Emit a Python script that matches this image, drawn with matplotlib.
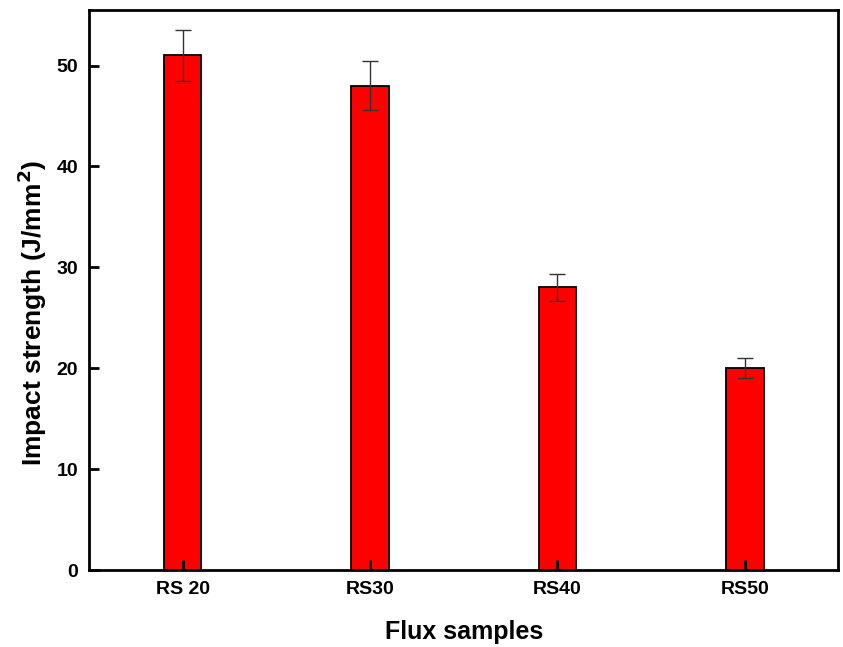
import matplotlib
matplotlib.use("Agg")
import matplotlib.pyplot as plt
import numpy as np

plt.rcParams['font.family'] = ['Liberation Sans', 'DejaVu Sans']
plt.rcParams['font.weight'] = 'bold'

samples = ['RS 20', 'RS30', 'RS40', 'RS50']
strength = [51.0, 48.0, 28.0, 20.0]
errors = [2.5, 2.4, 1.35, 1.0]

fig = plt.figure(figsize=(8.43, 6.47), dpi=100)
ax = fig.add_axes([0.1056, 0.119, 0.889, 0.8655])

x = np.arange(1, len(samples) + 1)
ax.bar(x, strength, width=0.2, color='#ff0000', edgecolor='black', linewidth=1.3,
       yerr=errors, capsize=5.5,
       error_kw=dict(ecolor='#333333', elinewidth=1.0, capthick=1.0))

ax.set_xlim(0.5, 4.5)
ax.set_ylim(0, 55.5)
ax.set_xticks(x)
ax.set_xticklabels(samples)
ax.set_yticks([0, 10, 20, 30, 40, 50])

for s in ax.spines.values():
    s.set_linewidth(2)

ax.tick_params(direction='in', length=7, width=2, labelsize=14, pad=8)
ax.tick_params(axis='y', right=False)
ax.tick_params(axis='x', top=False)

ax.set_xlabel('Flux samples', fontsize=18, fontweight='bold', labelpad=16)
ax.set_ylabel('Impact strength (J/mm$^{\\mathbf{2}}$)', fontsize=19, fontweight='bold')
ax.yaxis.set_label_coords(-0.054, 0.459)

fig.savefig('out.png', dpi=100)
